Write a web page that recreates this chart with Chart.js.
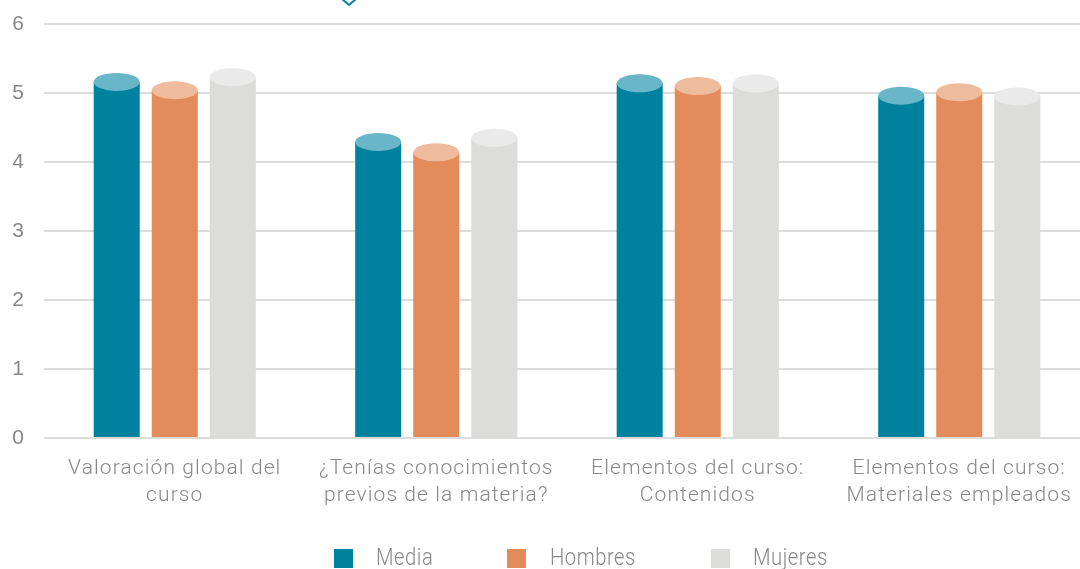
<!DOCTYPE html>
<html>
<head>
<meta charset="utf-8">
<script src="https://cdn.jsdelivr.net/npm/chart.js@4/dist/chart.umd.min.js"></script>
<style>
  html, body { margin: 0; padding: 0; background: #fff; overflow: hidden; }
  #wrap { position: relative; width: 1080px; height: 569px; overflow: hidden; }
  #box { position: absolute; left: 0; top: 0; width: 1090px; height: 569px; }
  #legend { position: absolute; left: 0; top: 0; width: 1080px; height: 569px; pointer-events: none; }
  .sw { position: absolute; top: 549px; width: 19px; height: 19px; }
  .tx { position: absolute; top: 544px; font-family: Roboto, sans-serif; font-weight: 300; font-size: 23px;
        line-height: 28px; color: #888; white-space: nowrap; letter-spacing: 0.6px;
        transform: scaleX(0.88); transform-origin: left center; }
</style>
</head>
<body>
<div id="wrap">
  <div id="box"><canvas id="chart" width="1090" height="569"></canvas></div>
  <div id="legend"></div>
</div>
<script>
// datos
const categorias = [
    ['Valoración global del', 'curso'],
    ['¿Tenías conocimientos', 'previos de la materia?'],
    ['Elementos del curso:', 'Contenidos'],
    ['Elementos del curso:', 'Materiales empleados']
];
const media    = [5.16, 4.29, 5.14, 4.96];
const hombres  = [5.04, 4.14, 5.10, 5.01];
const mujeres  = [5.23, 4.35, 5.14, 4.95];
const series   = ['Media', 'Hombres', 'Mujeres'];
const yTicks   = [0, 1, 2, 3, 4, 5, 6];

const colores  = ['#00829f', '#e38b5a', '#dcdddb'];
const tapas    = ['#68b6c8', '#eebc9c', '#eaeaea'];

// tapa elíptica para que las barras parezcan cilindros
const cilindros = {
    id: 'cilindros',
    beforeDraw(chart) {
        chart.ctx.letterSpacing = '1.1px';
    },
    afterDatasetsDraw(chart) {
        const ctx = chart.ctx;
        chart.data.datasets.forEach((ds, i) => {
            chart.getDatasetMeta(i).data.forEach(bar => {
                ctx.save();
                ctx.beginPath();
                ctx.ellipse(bar.x, bar.y, bar.width / 2, 9, 0, 0, Math.PI * 2);
                ctx.fillStyle = tapas[i];
                ctx.fill();
                ctx.restore();
            });
        });
        // marca recortada arriba
        ctx.save();
        ctx.beginPath();
        ctx.moveTo(342, -1);
        ctx.lineTo(349, 5);
        ctx.lineTo(356, -1);
        ctx.strokeStyle = '#00829f';
        ctx.lineWidth = 2;
        ctx.stroke();
        ctx.restore();
    },
    afterDraw(chart) {
        chart.ctx.letterSpacing = '0px';
    }
};

new Chart(document.getElementById('chart'), {
    type: 'bar',
    data: {
        labels: categorias,
        datasets: series.map((s, i) => ({
            label: s,
            data: [media, hombres, mujeres][i],
            backgroundColor: colores[i],
            borderWidth: 0,
            barPercentage: 0.793,
            categoryPercentage: 0.666
        }))
    },
    options: {
        responsive: false,
        animation: false,
        layout: { padding: { top: 24, right: 0, bottom: 0, left: 0 } },
        plugins: { legend: { display: false }, tooltip: { enabled: false } },
        scales: {
            x: {
                grid: { display: false },
                border: { display: false },
                ticks: {
                    color: '#888',
                    font: { family: 'Roboto', size: 21, weight: 300, lineHeight: 1.25 },
                    padding: 10,
                    maxRotation: 0,
                    autoSkip: false
                },
                afterFit: s => { s.height = 131; s.paddingLeft = 0; s.paddingRight = 0; }
            },
            y: {
                min: 0,
                max: 6,
                afterBuildTicks: s => { s.ticks = yTicks.map(v => ({ value: v })); },
                grid: { color: '#dcdcdc', lineWidth: 2, drawTicks: false },
                border: { display: false },
                ticks: {
                    color: '#888',
                    font: { family: 'Liberation Sans', size: 21 },
                    padding: 19
                },
                afterFit: s => { s.width = 44; s.paddingTop = 0; s.paddingBottom = 0; }
            }
        }
    },
    plugins: [cilindros]
});

// leyenda
const legendPos = [[334, 376], [507, 550], [711, 753]];
const leg = document.getElementById('legend');
series.forEach((s, i) => {
    const sw = document.createElement('span');
    sw.className = 'sw';
    sw.style.left = legendPos[i][0] + 'px';
    sw.style.background = colores[i];
    const tx = document.createElement('span');
    tx.className = 'tx';
    tx.style.left = legendPos[i][1] + 'px';
    tx.textContent = s;
    leg.appendChild(sw);
    leg.appendChild(tx);
});
</script>
</body>
</html>
